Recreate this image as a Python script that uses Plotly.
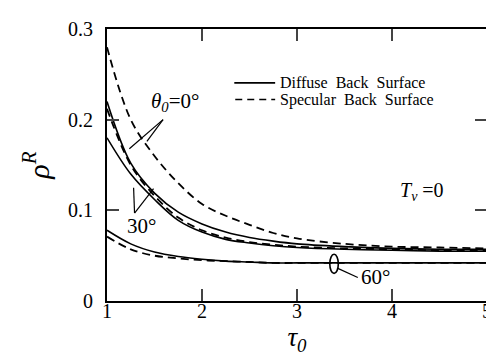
import plotly.graph_objects as go

tau = [1.0, 1.25, 1.5, 1.75, 2.0, 2.25, 2.5, 2.75, 3.0, 3.5, 4.0, 4.5, 5.0]

rho_0_specular = [0.280, 0.200, 0.160, 0.130, 0.107, 0.094, 0.084, 0.075, 0.069, 0.063, 0.060, 0.059, 0.058]
rho_0_diffuse = [0.220, 0.152, 0.119, 0.098, 0.085, 0.076, 0.070, 0.066, 0.063, 0.060, 0.058, 0.057, 0.057]
rho_30_specular = [0.212, 0.150, 0.116, 0.092, 0.078, 0.070, 0.065, 0.062, 0.060, 0.058, 0.057, 0.056, 0.056]
rho_30_diffuse = [0.180, 0.140, 0.112, 0.089, 0.076, 0.068, 0.064, 0.061, 0.059, 0.057, 0.056, 0.055, 0.055]
rho_60_diffuse = [0.078, 0.063, 0.054, 0.049, 0.046, 0.044, 0.043, 0.042, 0.042, 0.042, 0.042, 0.042, 0.042]
rho_60_specular = [0.071, 0.057, 0.050, 0.047, 0.045, 0.044, 0.043, 0.042, 0.042, 0.042, 0.042, 0.042, 0.042]

x_ticks = [1, 2, 3, 4, 5]
x_tick_labels = ["1", "2", "3", "4", "5"]
y_ticks = [0, 0.1, 0.2, 0.3]
y_tick_labels = ["0", "0.1", "0.2", "0.3"]
legend_labels = ["Diffuse\u00a0 Back\u00a0 Surface", "Specular\u00a0 Back\u00a0 Surface"]

SERIF = "Liberation Serif"
solid = dict(color="black", width=1.6)
dashed = dict(color="black", width=1.8, dash="8px,5px")

fig = go.Figure()
series = [
    (rho_0_specular, dashed, "Specular Back Surface"),
    (rho_0_diffuse, solid, "Diffuse Back Surface"),
    (rho_30_specular, dashed, "Specular Back Surface"),
    (rho_30_diffuse, solid, "Diffuse Back Surface"),
    (rho_60_diffuse, solid, "Diffuse Back Surface"),
    (rho_60_specular, dashed, "Specular Back Surface"),
]
for ys, ln, name in series:
    fig.add_trace(go.Scatter(x=tau, y=ys, mode="lines", line=dict(shape="spline", smoothing=1.0, **ln),
                             name=name, showlegend=False))

# legend drawn as keys + text
fig.add_shape(type="line", xref="x", yref="y", x0=2.34, x1=2.77, y0=0.2406, y1=0.2406,
              line=dict(color="black", width=1.6))
fig.add_shape(type="line", xref="x", yref="y", x0=2.35, x1=2.77, y0=0.2222, y1=0.2222,
              line=dict(color="black", width=1.6, dash="7px,5px"))
for lbl, yv in zip(legend_labels, [0.2406, 0.2222]):
    fig.add_annotation(xref="x", yref="y", x=2.80, y=yv, xanchor="left", yanchor="middle",
                       text=lbl, showarrow=False, font=dict(family=SERIF, size=16, color="black"))

annotations = [
    (1.72, 0.219, "<i>θ<sub>0</sub></i>=0°", 21),
    (1.36, 0.083, "30°", 21),
    (3.83, 0.027, "60°", 21),
    (4.32, 0.121, "<i>T<sub>v</sub></i>\u00a0=0", 20),
]
for x, y, t, s in annotations:
    fig.add_annotation(xref="x", yref="y", x=x, y=y, text=t, showarrow=False,
                       font=dict(family=SERIF, size=s, color="black"))

pointer_lines = [
    (1.59, 0.200, 1.235, 0.168),
    (1.59, 0.200, 1.42, 0.176),
    (1.29, 0.097, 1.28, 0.125),
    (1.29, 0.097, 1.49, 0.124),
    (3.43, 0.036, 3.64, 0.026),
]
for x0, y0, x1, y1 in pointer_lines:
    fig.add_shape(type="line", xref="x", yref="y", x0=x0, y0=y0, x1=x1, y1=y1,
                  line=dict(color="black", width=1.2))
fig.add_shape(type="circle", xref="x", yref="y", x0=3.345, x1=3.435, y0=0.0305, y1=0.0515,
              line=dict(color="black", width=1.6))

fig.update_layout(
    width=494, height=355,
    margin=dict(l=99, r=10, t=15, b=62),
    paper_bgcolor="white", plot_bgcolor="white",
    font=dict(family=SERIF, color="black", size=20),
    showlegend=False,
    xaxis=dict(range=[1, 5], tickvals=x_ticks, ticktext=x_tick_labels, ticks="inside", ticklen=12,
               tickwidth=1.5, showline=True, linecolor="black", linewidth=2, mirror="ticks",
               showgrid=False, zeroline=False, tickfont=dict(size=20), ticklabelstandoff=-9,
               title=dict(text="<i>τ<sub>0</sub></i>", font=dict(size=27), standoff=0)),
    yaxis=dict(range=[0, 0.3], tickvals=y_ticks, ticktext=y_tick_labels, ticks="inside", ticklen=12,
               tickwidth=1.5, showline=True, linecolor="black", linewidth=2, mirror="ticks",
               showgrid=False, zeroline=False, tickfont=dict(size=20), ticklabelstandoff=8,
               title=dict(text="<i>ρ</i><sup><i>R</i></sup>", font=dict(size=30), standoff=10)),
)

fig.write_html("out.html")
